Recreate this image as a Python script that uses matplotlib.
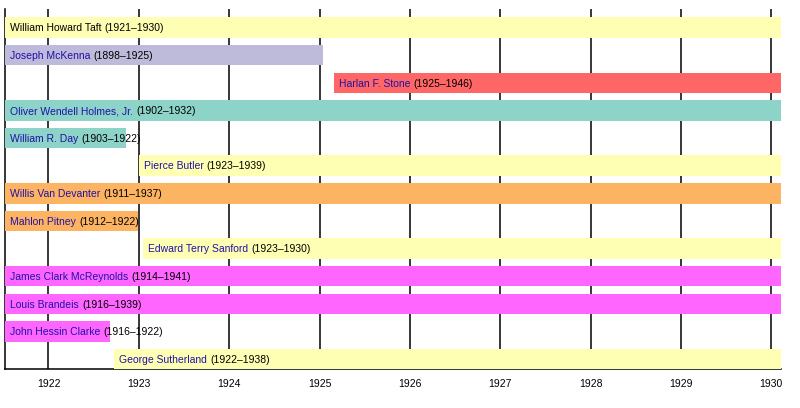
import matplotlib.pyplot as plt

plt.rcParams['font.family'] = ['Liberation Sans', 'DejaVu Sans']

#------------------------- justices (top to bottom)
names = ["William Howard Taft", "Joseph McKenna", "Harlan F. Stone",
         "Oliver Wendell Holmes, Jr.", "William R. Day", "Pierce Butler",
         "Willis Van Devanter", "Mahlon Pitney", "Edward Terry Sanford",
         "James Clark McReynolds", "Louis Brandeis", "John Hessin Clarke",
         "George Sutherland"]
years = ["(1921–1930)", "(1898–1925)", "(1925–1946)", "(1902–1932)",
         "(1903–1922)", "(1923–1939)", "(1911–1937)", "(1912–1922)",
         "(1923–1930)", "(1914–1941)", "(1916–1939)", "(1916–1922)",
         "(1922–1938)"]
# term start / end as decimal years
start = [1921.52, 1898.07, 1925.16, 1902.92, 1903.16, 1923.0, 1911.0,
         1912.2, 1923.05, 1914.84, 1916.43, 1916.6, 1922.73]
end = [1930.11, 1925.04, 1946.5, 1932.03, 1922.86, 1939.87, 1937.42,
       1922.99, 1930.18, 1941.08, 1939.12, 1922.68, 1938.04]
colors = ["#ffffb3", "#bebada", "#ff6666", "#8dd3c7", "#8dd3c7", "#ffffb3",
          "#fdb462", "#fdb462", "#ffffb3", "#ff66ff", "#ff66ff", "#ff66ff",
          "#ffffb3"]
name_colors = ["black"] + ["#2010a8"] * 12

window = (1921.522, 1930.104)
ticks = list(range(1922, 1931))
ylim = (12.36, -0.66)

fig = plt.figure(figsize=(8, 4.08), dpi=100)
ax = fig.add_axes([0.0066, 0.0956, 0.9693, 0.8816])

# year lines behind the bars
ax.vlines(ticks, ylim[0], ylim[1], color='black', linewidth=1.1, zorder=0.2)

lefts = [max(s, window[0]) for s in start]
widths = [min(e, window[1]) - l for e, l in zip(end, lefts)]
ax.barh(range(len(names)), widths, left=lefts, height=0.74, color=colors,
        edgecolor='none', linewidth=0, zorder=5)

for i in range(len(names)):
    t = ax.annotate(names[i], xy=(lefts[i], i), xytext=(3.6, -0.6), textcoords='offset points',
                    va='center', ha='left', fontsize=7.5, color=name_colors[i], zorder=6)
    ax.annotate(years[i], xy=(1, 0), xycoords=t, xytext=(2.2, 0), textcoords='offset points',
                va='bottom', ha='left', fontsize=7.5, color='black', zorder=6)

ax.set_xlim(window)
ax.set_ylim(ylim)
ax.set_xticks(ticks)
ax.set_xticklabels([str(y) for y in ticks], fontsize=7.5)
ax.set_yticks([])
ax.tick_params(axis='x', length=0, pad=7)
for s in ['top', 'right']:
    ax.spines[s].set_visible(False)
ax.spines['left'].set_linewidth(1.1)
ax.spines['bottom'].set_linewidth(1.1)

plt.savefig('out.png', dpi=100)
